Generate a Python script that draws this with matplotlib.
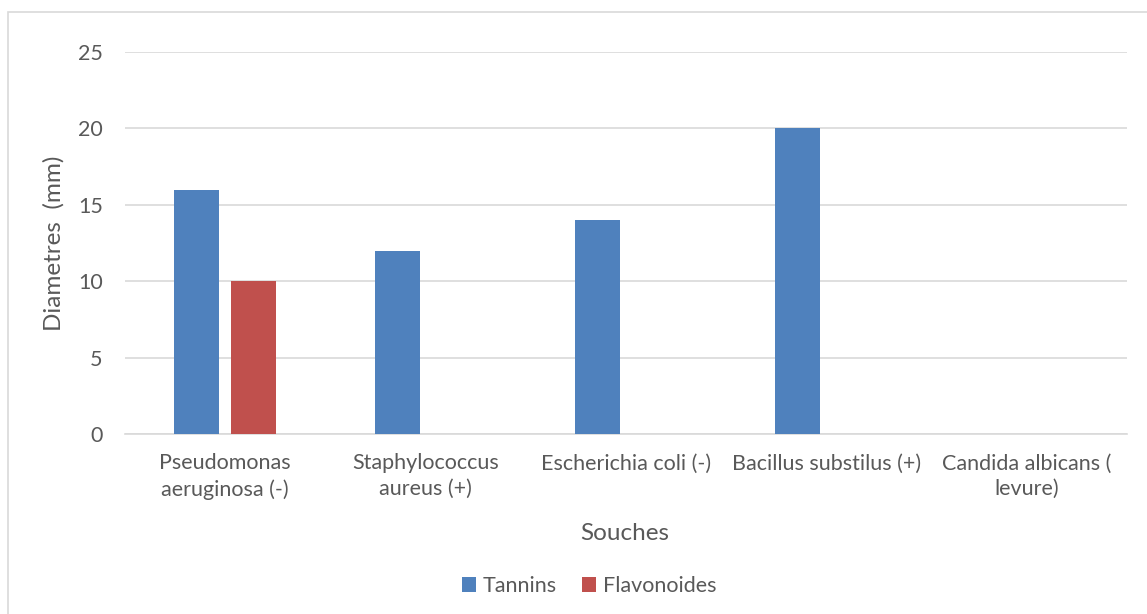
import numpy as np
import matplotlib.pyplot as plt
from matplotlib.patches import Rectangle

# data
souches = ["Pseudomonas\naeruginosa (-)", "Staphylococcus\naureus (+)",
           "Escherichia coli (-)", "Bacillus substilus (+)",
           "Candida albicans (\nlevure)"]
tannins = [16, 12, 14, 20, 0]
flavonoides = [10, 0, 0, 0, 0]
y_ticks = [0, 5, 10, 15, 20, 25]

plt.rcParams['font.family'] = ['Lato', 'DejaVu Sans']
text_col = "#595959"
grid_col = "#D9D9D9"

W, H = 1147, 614
fig = plt.figure(figsize=(W / 100, H / 100), dpi=100)

# chart border like the Excel frame
fig.patches.append(Rectangle((8 / W, -0.01), 1.0, 1 - 12 / H + 0.01,
                             transform=fig.transFigure, fill=False,
                             edgecolor=grid_col, linewidth=1.2))

ax = fig.add_axes([125 / W, 1 - 434 / H, (1127 - 125) / W, (434 - 52) / H])

x = np.arange(len(souches))
w = 0.225
ax.bar(x - 0.142, tannins, w, color="#4F81BD", label="Tannins", zorder=3)
ax.bar(x + 0.142, flavonoides, w, color="#C0504D", label="Flavonoides", zorder=3)

ax.set_xlim(-0.5, len(souches) - 0.5)
ax.set_ylim(0, 25)
ax.set_yticks(y_ticks)
ax.set_xticks(x)
ax.set_xticklabels(souches, color=text_col, fontsize=15.5, linespacing=1.35)
ax.tick_params(axis="x", length=0, pad=14)
ax.tick_params(axis="y", length=0, pad=16, labelsize=15.5, labelcolor=text_col)

ax.grid(axis="y", color=grid_col, linewidth=1.2, zorder=0)
for s in ["top", "right", "left"]:
    ax.spines[s].set_visible(False)
ax.spines["bottom"].set_color(grid_col)
ax.spines["bottom"].set_linewidth(1.2)

# axis titles
fig.text(54 / W, 1 - 243 / H, "Diametres  (mm)", rotation=90, fontsize=17.5,
         color=text_col, ha="center", va="center")
fig.text(625 / W, 1 - 533 / H, "Souches", fontsize=17.5, color=text_col,
         ha="center", va="center")

leg = fig.legend(loc="center", bbox_to_anchor=(589 / W, 1 - 586 / H), ncol=2,
                 frameon=False, fontsize=15.5, handlelength=0.65,
                 handleheight=0.65, handletextpad=0.3, columnspacing=1.2)
for t in leg.get_texts():
    t.set_color(text_col)

fig.savefig("out.png", dpi=100, facecolor="white")
